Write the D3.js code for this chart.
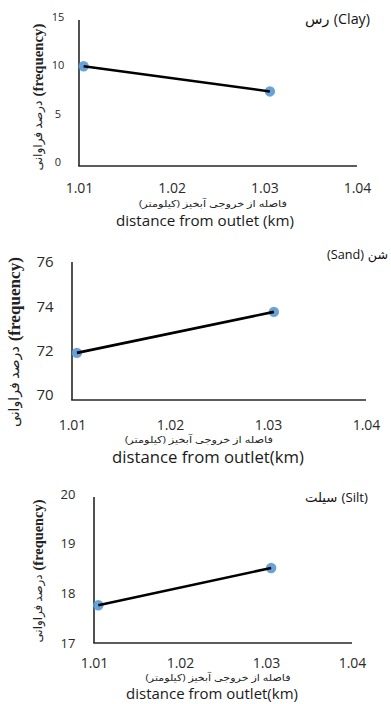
<!DOCTYPE html>
<html><head><meta charset="utf-8">
<script src="https://cdn.jsdelivr.net/npm/d3@7"></script>
<style>
html,body{margin:0;padding:0;background:#fff;}
svg{display:block;}
</style></head>
<body>
<svg id="chart" width="391" height="704"></svg>
<script>
// ---- data ----
const distance = [1.0105, 1.0306];
const clayValues = [9.9, 7.3];
const sandValues = [71.9, 73.75];
const siltValues = [17.76, 18.51];
const clayTicks = [0, 5, 10, 15];
const sandTicks = [70, 72, 74, 76];
const siltTicks = [17, 18, 19, 20];
const xTicks = [1.01, 1.02, 1.03, 1.04];
const titlesEn = ["(Clay)", "(Sand)", "(Silt)"];
const titlesFa = ["رس", "شن", "سیلت"];
const yAxisTitleFa = "درصد فراوانی";
const yAxisTitleEn = "(frequency)";
const xAxisTitleFa = "فاصله از خروجی آبخیز (کیلومتر)";
const xAxisTitleEn = ["distance from outlet (km)", "distance from outlet(km)", "distance from outlet(km)"];

const svg = d3.select("#chart");
const sans = "'Open Sans','DejaVu Sans',sans-serif";
const serif = "'Liberation Serif','DejaVu Serif',serif";

const panels = [
  {values: clayValues, ticks: clayTicks, faFirst: true,
   x0: 79, x1: 357, yTopAxis: 20, yBottomAxis: 166, yMinPix: 162, yMaxPix: 17,
   yTickFont: 11, yTickX: 58, xTickFont: 14, xTickY: 188.5,
   faX: 213, faY: 204, faW: 148, enX: 205, enY: 220.5, enW: 178,
   yTitleX: 38, yTitleY: 97, yTitleW: 147, titleRight: 370, titleY: 19, titleW: 65},
  {values: sandValues, ticks: sandTicks, faFirst: false,
   x0: 72, x1: 366, yTopAxis: 262, yBottomAxis: 400, yMinPix: 395, yMaxPix: 262,
   yTickFont: 15, yTickX: 45, xTickFont: 14, xTickY: 425,
   faX: 199, faY: 439.5, faW: 148, enX: 208, enY: 457.5, enW: 192,
   yTitleX: 14, yTitleY: 342, yTitleW: 170, titleRight: 388, titleY: 255, titleW: 61},
  {values: siltValues, ticks: siltTicks, faFirst: true,
   x0: 94, x1: 352, yTopAxis: 497, yBottomAxis: 643, yMinPix: 643, yMaxPix: 494,
   yTickFont: 13, yTickX: 68, xTickFont: 14, xTickY: 663,
   faX: 218, faY: 678, faW: 145, enX: 212, enY: 694, enW: 172,
   yTitleX: 38, yTitleY: 571, yTitleW: 143, titleRight: 368, titleY: 497, titleW: 63}
];

// fit a text element's font size so its width equals w
function fitWidth(sel, w) {
  const fs = +sel.attr("font-size");
  const cur = sel.node().getComputedTextLength();
  if (cur > 0) sel.attr("font-size", (fs * w / cur).toFixed(2));
  return sel;
}

// lay out pieces visually left-to-right, starting at x, as separate text elements
function rowOfPieces(parent, pieces, xStart, y) {
  let x = xStart;
  pieces.forEach(pc => {
    const t = parent.append("text").attr("x", x).attr("y", y).attr("dy", "0.35em")
      .attr("text-anchor", "start").attr("font-family", pc.family).attr("font-size", pc.size)
      .attr("font-weight", pc.weight || "normal").attr("fill", pc.fill || "#111").text(pc.text);
    x += t.node().getComputedTextLength() + (pc.gap || 0);
  });
  return x - xStart;
}

panels.forEach((p, idx) => {
  const g = svg.append("g");
  const x = d3.scaleLinear().domain([xTicks[0], xTicks[xTicks.length - 1]]).range([p.x0, p.x1]);
  const y = d3.scaleLinear().domain([p.ticks[0], p.ticks[p.ticks.length - 1]]).range([p.yMinPix, p.yMaxPix]);

  // y tick labels
  const yAxis = d3.axisLeft(y).tickValues(p.ticks).tickFormat(d3.format("d")).tickSize(0).tickPadding(0);
  const yg = g.append("g").attr("transform", `translate(${p.yTickX},0)`).call(yAxis);
  yg.select(".domain").remove();
  yg.selectAll("text").attr("x", 0).attr("text-anchor", "middle")
    .attr("font-family", sans).attr("font-size", p.yTickFont).attr("fill", "#2a2a2a");

  // axis lines
  g.append("line").attr("x1", p.x0).attr("x2", p.x0).attr("y1", p.yTopAxis).attr("y2", p.yBottomAxis)
    .attr("stroke", "#262626").attr("stroke-width", 1.6);
  g.append("line").attr("x1", p.x0 - 0.8).attr("x2", p.x1).attr("y1", p.yBottomAxis).attr("y2", p.yBottomAxis)
    .attr("stroke", "#262626").attr("stroke-width", 1.6);

  // x tick labels
  const xAxis = d3.axisBottom(x).tickValues(xTicks).tickFormat(d3.format(".2f")).tickSize(0).tickPadding(0);
  const xg = g.append("g").attr("transform", `translate(0,${p.xTickY})`).call(xAxis);
  xg.select(".domain").remove();
  xg.selectAll("text").attr("y", 0).attr("dy", "0.35em")
    .attr("font-family", sans).attr("font-size", p.xTickFont).attr("fill", "#2a2a2a");

  // points then line on top
  const pts = distance.map((d, i) => [d, p.values[i]]);
  g.selectAll("circle").data(pts).join("circle")
    .attr("cx", d => x(d[0])).attr("cy", d => y(d[1])).attr("r", 5.2)
    .attr("fill", "#5b9bd5").attr("fill-opacity", 0.92);
  g.append("path").datum(pts)
    .attr("d", d3.line().x(d => x(d[0])).y(d => y(d[1])))
    .attr("fill", "none").attr("stroke", "#000").attr("stroke-width", 2.6);

  // panel title (mixed Latin / Persian, laid out piece by piece, left to right)
  const tg = g.append("g");
  const en = {text: titlesEn[idx], family: sans, size: 13, fill: "#111"};
  const fa = {text: titlesFa[idx], family: sans, size: 13, fill: "#111"};
  const pieces = p.faFirst ? [Object.assign(fa, {gap: 4}), en] : [Object.assign(en, {gap: 4}), fa];
  const w = rowOfPieces(tg, pieces, 0, 0);
  const s = p.titleW / w;
  tg.attr("transform", `translate(${p.titleRight - p.titleW},${p.titleY}) scale(${s})`);

  // x axis titles
  g.append("text").attr("x", p.faX).attr("y", p.faY).attr("dy", "0.35em")
    .attr("text-anchor", "middle").attr("direction", "rtl")
    .attr("font-family", sans).attr("font-size", 9.5).attr("fill", "#222")
    .attr("textLength", p.faW).attr("lengthAdjust", "spacingAndGlyphs").text(xAxisTitleFa);
  const enT = g.append("text").attr("x", p.enX).attr("y", p.enY).attr("dy", "0.35em")
    .attr("text-anchor", "middle").attr("font-family", sans).attr("font-size", 15)
    .attr("fill", "#1a1a1a").text(xAxisTitleEn[idx]);
  fitWidth(enT, p.enW);

  // y axis title: rotated, reading bottom-to-top: Persian then (frequency)
  const yg2 = g.append("g");
  const yw = rowOfPieces(yg2, [
    {text: yAxisTitleFa, family: sans, size: 11.5, fill: "#222", gap: 4},
    {text: yAxisTitleEn, family: serif, size: 14, weight: "bold", fill: "#222"}
  ], 0, 0);
  const ys = p.yTitleW / yw;
  yg2.attr("transform", `translate(${p.yTitleX},${p.yTitleY}) rotate(-90) scale(${ys}) translate(${-yw / 2},0)`);
});
</script>
</body></html>
